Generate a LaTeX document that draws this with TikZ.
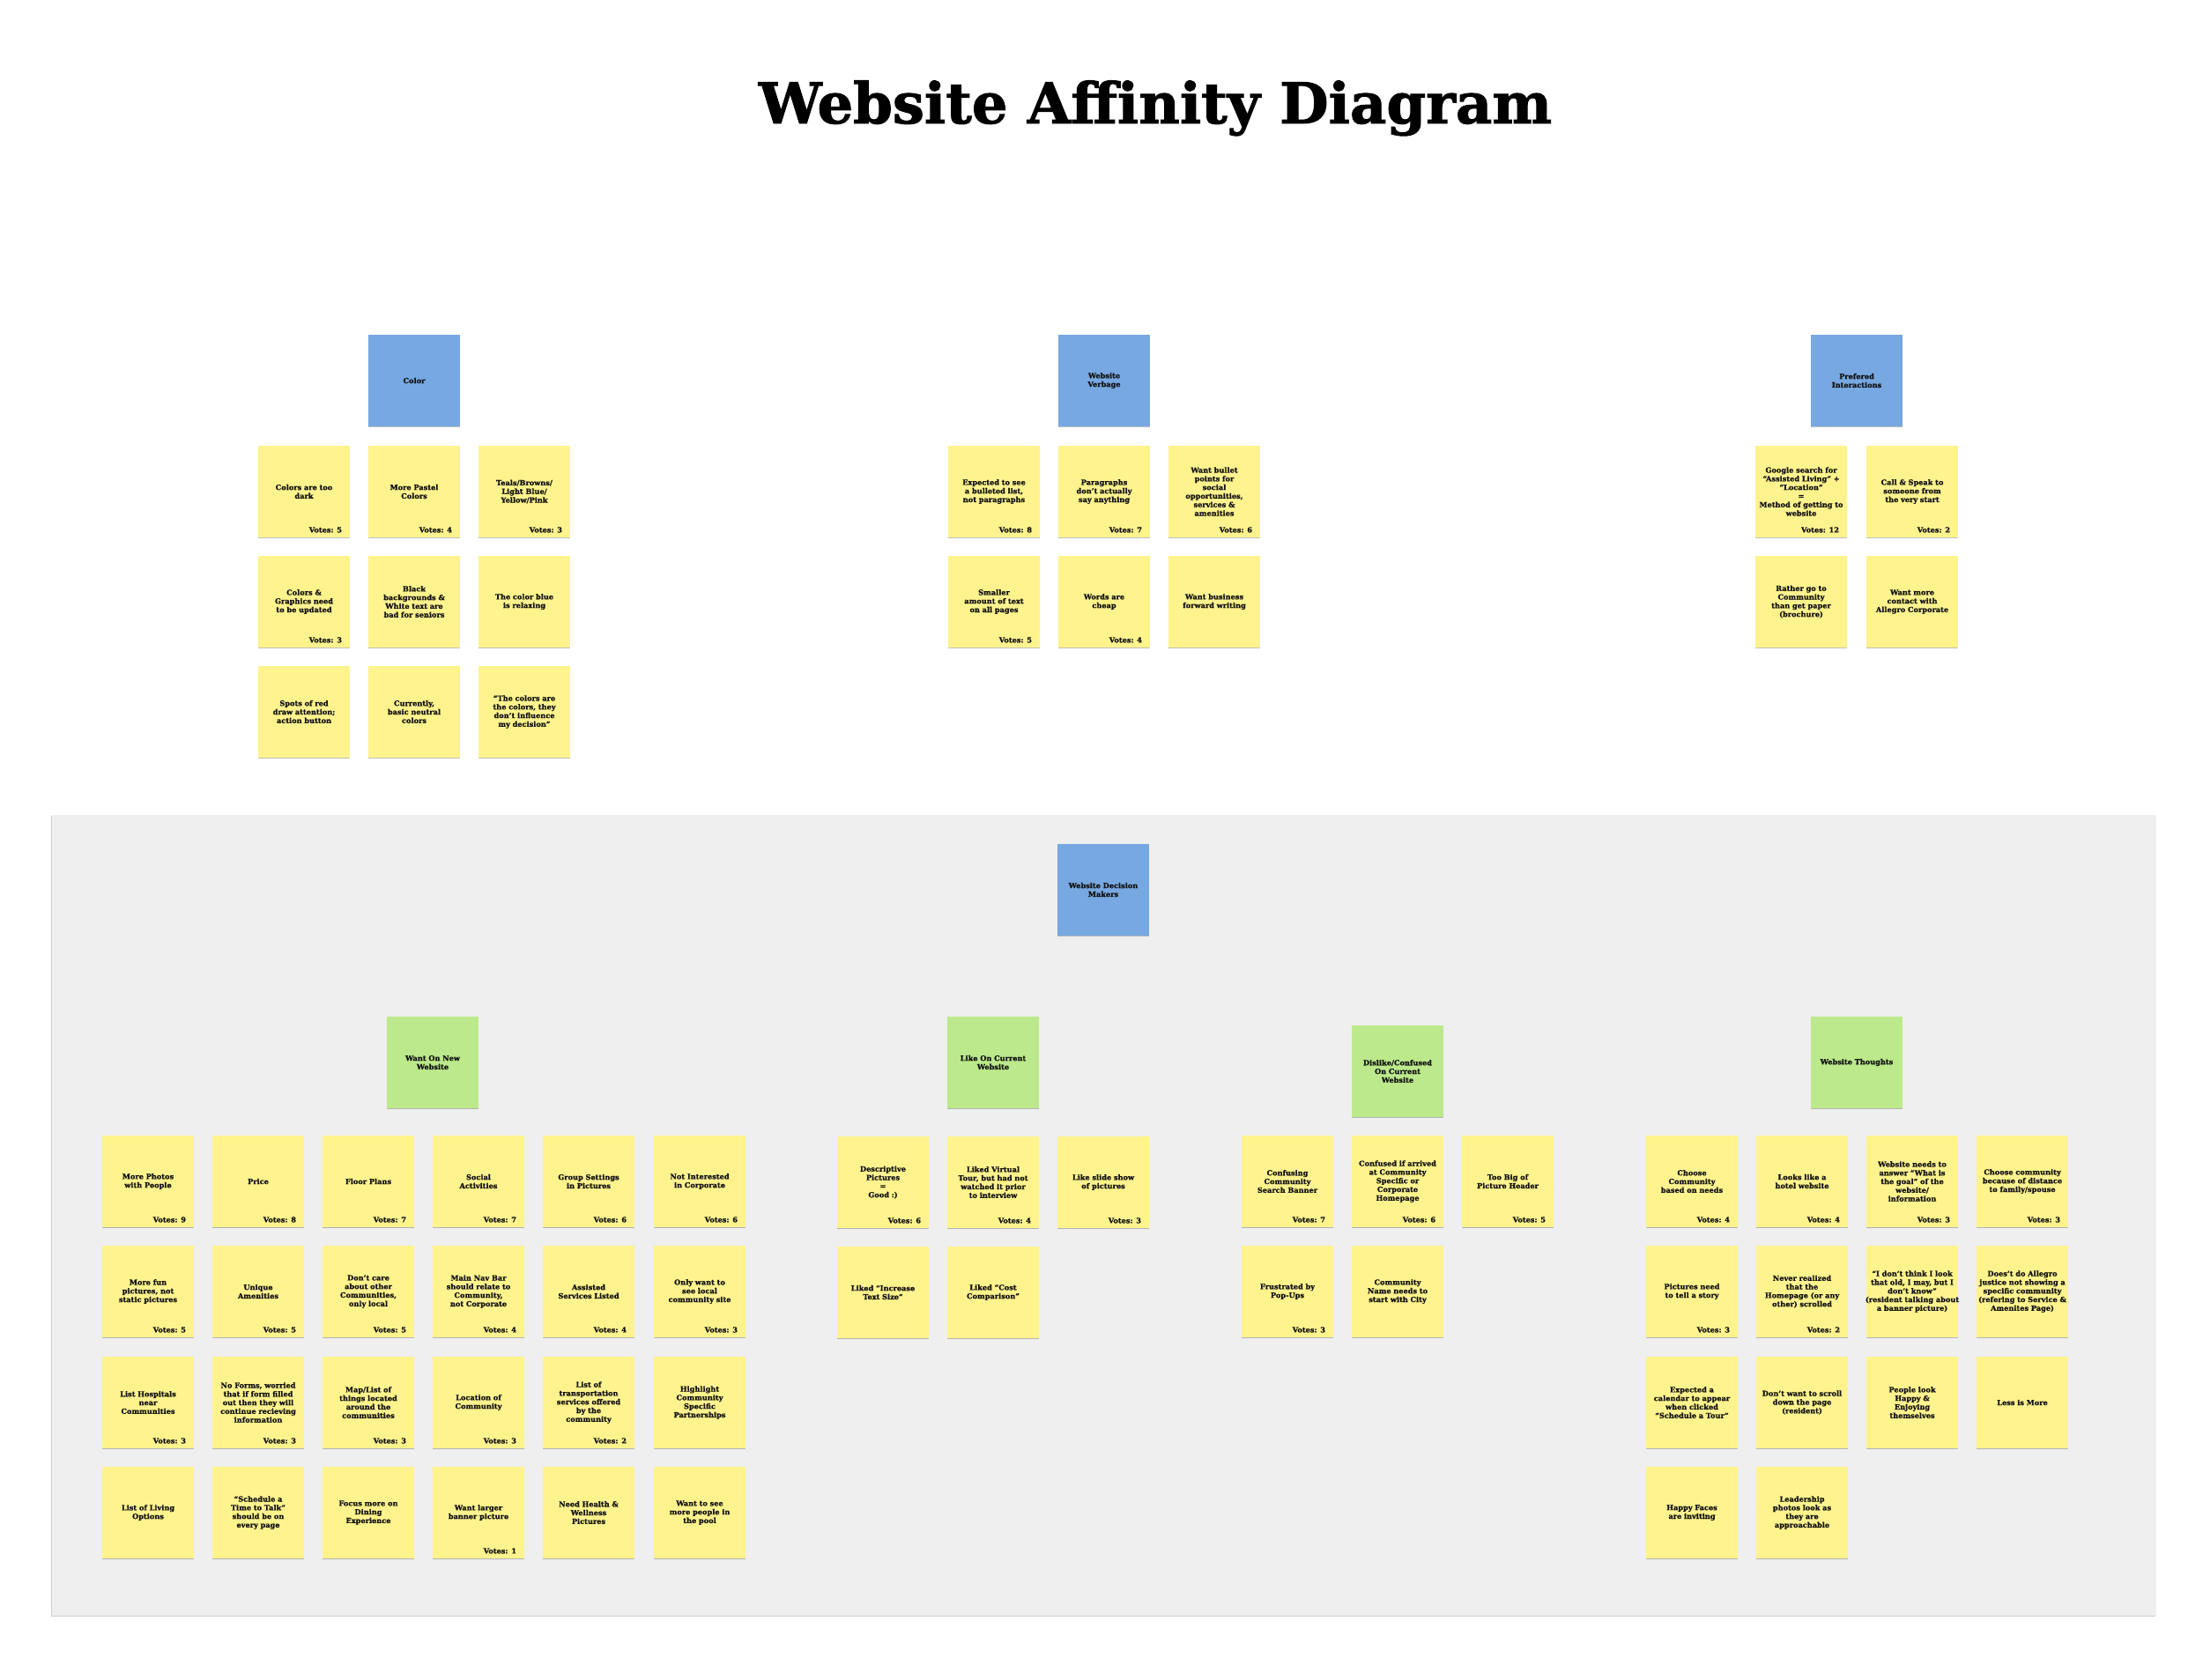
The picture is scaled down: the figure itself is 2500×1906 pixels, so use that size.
\documentclass[tikz,border=0pt]{standalone}
\usepackage{fontspec}
\setmainfont{DejaVu Serif}[BoldFeatures={FakeBold=0.8}]
\newfontfamily\titlefont{DejaVu Serif}[BoldFeatures={FakeBold=1.5}]
\usetikzlibrary{shadows}
\definecolor{notey}{HTML}{FFF38E}
\definecolor{headb}{HTML}{77A8E1}
\definecolor{headg}{HTML}{BBE98B}
\definecolor{panel}{HTML}{EFEFEF}
\definecolor{ink}{HTML}{111111}
\tikzset{
  note/.style={rectangle,fill=notey,text width=56pt,inner xsep=-2pt,inner ysep=1pt,minimum height=52pt,align=center,
    font=\bfseries\fontsize{4.1}{4.9}\selectfont,text=ink,
    drop shadow={shadow xshift=0pt,shadow yshift=-0.6pt,opacity=0.25,fill=black}},
  bhead/.style={note,fill=headb},
  ghead/.style={note,fill=headg},
  votes/.style={anchor=base east,inner sep=0pt,font=\bfseries\fontsize{4.1}{4.9}\selectfont,text=ink},
  ttl/.style={font=\titlefont\bfseries\fontsize{32}{36}\selectfont,text=black},
}
\begin{document}
\begin{tikzpicture}[x=0.5pt,y=-0.5pt]
\useasboundingbox (0,0) rectangle (2500,1906);
\node[ttl,anchor=base] (title) at (1311,140) {Website Affinity Diagram};
% Color
\node[bhead] (hcolor) at (470,432) {Color};
\foreach \n/\x/\y/\t/\v in {
  col11/345/558/{Colors are too\\dark}/5, col12/470/558/{More Pastel\\Colors}/4,
  col13/595/558/{Teals/Browns/\\Light Blue/\\Yellow/Pink}/3,
  col21/345/683/{Colors \&\\Graphics need\\to be updated}/3,
  col22/470/683/{Black\\backgrounds \&\\White text are\\bad for seniors}/0,
  col23/595/683/{The color blue\\is relaxing}/0,
  col31/345/808/{Spots of red\\draw attention;\\action button}/0,
  col32/470/808/{Currently,\\basic neutral\\colors}/0,
  col33/595/808/{“The colors are\\the colors, they\\don’t influence\\my decision”}/0}{
  \node[note] (\n) at (\x,\y) {\t};
  \ifnum\v>0 \node[votes] (\n-v) at ([xshift=-4.5pt,yshift=3pt]\n.south east) {Votes: \v};\fi}
% Website Verbage
\node[bhead] (hverb) at (1253,432) {Website\\Verbage};
\foreach \n/\x/\y/\t/\v in {
  vrb11/1128/558/{Expected to see\\a bulleted list,\\not paragraphs}/8,
  vrb12/1253/558/{Paragraphs\\don’t actually\\say anything}/7,
  vrb13/1378/558/{Want bullet\\points for\\social\\opportunities,\\services \&\\amenities}/6,
  vrb21/1128/683/{Smaller\\amount of text\\on all pages}/5,
  vrb22/1253/683/{Words are\\cheap}/4,
  vrb23/1378/683/{Want business\\forward writing}/0}{
  \node[note] (\n) at (\x,\y) {\t};
  \ifnum\v>0 \node[votes] (\n-v) at ([xshift=-4.5pt,yshift=3pt]\n.south east) {Votes: \v};\fi}
% Prefered Interactions
\node[bhead] (hpref) at (2107,432) {Prefered\\Interactions};
\foreach \n/\x/\y/\t/\v in {
  prf11/2044/558/{Google search for\\“Assisted Living” +\\“Location”\\=\\Method of getting to\\website}/12,
  prf12/2170/558/{Call \& Speak to\\someone from\\the very start}/2,
  prf21/2044/683/{Rather go to\\Community\\than get paper\\(brochure)}/0,
  prf22/2170/683/{Want more\\contact with\\Allegro Corporate}/0}{
  \node[note] (\n) at (\x,\y) {\t};
  \ifnum\v>0 \node[votes] (\n-v) at ([xshift=-4.5pt,yshift=3pt]\n.south east) {Votes: \v};\fi}
% Decision makers panel
\fill[panel,drop shadow={shadow xshift=-0.4pt,shadow yshift=-0.6pt,opacity=0.2,fill=black}] (59,925) rectangle (2447,1834);
\node[bhead] (hdec) at (1252,1010) {Website Decision\\Makers};
% Want On New Website
\node[ghead] (hwant) at (491,1206) {Want On New\\Website};
\foreach \n/\x/\y/\t/\v in {
  wnt11/168/1341/{More Photos\\with People}/9, wnt12/293/1341/{Price}/8,
  wnt13/418/1341/{Floor Plans}/7, wnt14/543/1341/{Social\\Activities}/7,
  wnt15/668/1341/{Group Settings\\in Pictures}/6, wnt16/794/1341/{Not Interested\\in Corporate}/6,
  wnt21/168/1466/{More fun\\pictures, not\\static pictures}/5, wnt22/293/1466/{Unique\\Amenities}/5,
  wnt23/418/1466/{Don’t care\\about other\\Communities,\\only local}/5,
  wnt24/543/1466/{Main Nav Bar\\should relate to\\Community,\\not Corporate}/4,
  wnt25/668/1466/{Assisted\\Services Listed}/4, wnt26/794/1466/{Only want to\\see local\\community site}/3,
  wnt31/168/1592/{List Hospitals\\near\\Communities}/3,
  wnt32/293/1592/{No Forms, worried\\that if form filled\\out then they will\\continue recieving\\information}/3,
  wnt33/418/1592/{Map/List of\\things located\\around the\\communities}/3,
  wnt34/543/1592/{Location of\\Community}/3,
  wnt35/668/1592/{List of\\transportation\\services offered\\by the\\community}/2,
  wnt36/794/1592/{Highlight\\Community\\Specific\\Partnerships}/0,
  wnt41/168/1717/{List of Living\\Options}/0,
  wnt42/293/1717/{“Schedule a\\Time to Talk”\\should be on\\every page}/0,
  wnt43/418/1717/{Focus more on\\Dining\\Experience}/0,
  wnt44/543/1717/{Want larger\\banner picture}/1,
  wnt45/668/1717/{Need Health \&\\Wellness\\Pictures}/0,
  wnt46/794/1717/{Want to see\\more people in\\the pool}/0}{
  \node[note] (\n) at (\x,\y) {\t};
  \ifnum\v>0 \node[votes] (\n-v) at ([xshift=-4.5pt,yshift=3pt]\n.south east) {Votes: \v};\fi}
% Like On Current Website
\node[ghead] (hlike) at (1127,1206) {Like On Current\\Website};
\foreach \n/\x/\y/\t/\v in {
  lik11/1002/1342/{Descriptive\\Pictures\\=\\Good :)}/6,
  lik12/1127/1342/{Liked Virtual\\Tour, but had not\\watched it prior\\to interview}/4,
  lik13/1252/1342/{Like slide show\\of pictures}/3,
  lik21/1002/1467/{Liked “Increase\\Text Size”}/0,
  lik22/1127/1467/{Liked “Cost\\Comparison”}/0}{
  \node[note] (\n) at (\x,\y) {\t};
  \ifnum\v>0 \node[votes] (\n-v) at ([xshift=-4.5pt,yshift=3pt]\n.south east) {Votes: \v};\fi}
% Dislike/Confused On Current Website
\node[ghead] (hdis) at (1586,1216) {Dislike/Confused\\On Current\\Website};
\foreach \n/\x/\y/\t/\v in {
  dis11/1461/1341/{Confusing\\Community\\Search Banner}/7,
  dis12/1586/1341/{Confused if arrived\\at Community\\Specific or\\Corporate\\Homepage}/6,
  dis13/1711/1341/{Too Big of\\Picture Header}/5,
  dis21/1461/1466/{Frustrated by\\Pop-Ups}/3,
  dis22/1586/1466/{Community\\Name needs to\\start with City}/0}{
  \node[note] (\n) at (\x,\y) {\t};
  \ifnum\v>0 \node[votes] (\n-v) at ([xshift=-4.5pt,yshift=3pt]\n.south east) {Votes: \v};\fi}
% Website Thoughts
\node[ghead] (hthink) at (2107,1206) {Website Thoughts};
\foreach \n/\x/\y/\t/\v in {
  tht11/1920/1341/{Choose\\Community\\based on needs}/4,
  tht12/2045/1341/{Looks like a\\hotel website}/4,
  tht13/2170/1341/{Website needs to\\answer “What is\\the goal” of the\\website/\\information}/3,
  tht14/2295/1341/{Choose community\\because of distance\\to family/spouse}/3,
  tht21/1920/1466/{Pictures need\\to tell a story}/3,
  tht22/2045/1466/{Never realized\\that the\\Homepage (or any\\other) scrolled}/2,
  tht23/2170/1466/{“I don’t think I look\\that old, I may, but I\\don’t know”\\(resident talking about\\a banner picture)}/0,
  tht24/2295/1466/{Does’t do Allegro\\justice not showing a\\specific community\\(refering to Service \&\\Amenites Page)}/0,
  tht31/1920/1592/{Expected a\\calendar to appear\\when clicked\\“Schedule a Tour”}/0,
  tht32/2045/1592/{Don’t want to scroll\\down the page\\(resident)}/0,
  tht33/2170/1592/{People look\\Happy \&\\Enjoying\\themselves}/0,
  tht34/2295/1592/{Less is More}/0,
  tht41/1920/1717/{Happy Faces\\are inviting}/0,
  tht42/2045/1717/{Leadership\\photos look as\\they are\\approachable}/0}{
  \node[note] (\n) at (\x,\y) {\t};
  \ifnum\v>0 \node[votes] (\n-v) at ([xshift=-4.5pt,yshift=3pt]\n.south east) {Votes: \v};\fi}
\end{tikzpicture}
\end{document}
